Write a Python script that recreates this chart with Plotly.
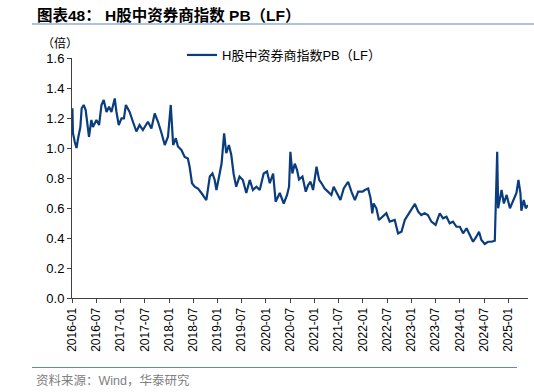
import plotly.graph_objects as go

dates = [
    "2016-01-04", "2016-01-08", "2016-01-22", "2016-02-04", "2016-02-16", "2016-03-04", "2016-03-14",
    "2016-03-29", "2016-04-13", "2016-05-08", "2016-05-26", "2016-06-07", "2016-07-03", "2016-07-23",
    "2016-08-10", "2016-08-27", "2016-09-17", "2016-10-06", "2016-10-24", "2016-11-18", "2016-12-01",
    "2016-12-18", "2017-01-08", "2017-01-26", "2017-02-10", "2017-03-10", "2017-04-04", "2017-04-30",
    "2017-05-24", "2017-06-18", "2017-07-26", "2017-08-21", "2017-09-15", "2017-10-10", "2017-11-05",
    "2017-11-30", "2017-12-24", "2018-01-14", "2018-02-01", "2018-02-21", "2018-03-09", "2018-04-04",
    "2018-04-29", "2018-05-23", "2018-06-05", "2018-06-23", "2018-07-13", "2018-08-07", "2018-09-02",
    "2018-10-09", "2018-11-04", "2018-11-24", "2018-12-11", "2018-12-24", "2019-01-13", "2019-02-01",
    "2019-02-20", "2019-03-08", "2019-03-28", "2019-04-15", "2019-05-02", "2019-05-22", "2019-06-16",
    "2019-07-11", "2019-08-06", "2019-09-01", "2019-09-25", "2019-10-21", "2019-11-15", "2019-12-15",
    "2020-01-09", "2020-01-30", "2020-02-24", "2020-03-14", "2020-04-14", "2020-05-14", "2020-06-08",
    "2020-06-23", "2020-07-03", "2020-07-18", "2020-08-05", "2020-08-22", "2020-09-06", "2020-10-02",
    "2020-10-27", "2020-11-14", "2020-12-02", "2020-12-21", "2021-01-16", "2021-02-05", "2021-02-23",
    "2021-03-18", "2021-04-12", "2021-05-08", "2021-05-25", "2021-06-19", "2021-07-15", "2021-08-09",
    "2021-09-11", "2021-10-06", "2021-11-01", "2021-11-26", "2021-12-29", "2022-01-15", "2022-02-09",
    "2022-02-27", "2022-03-12", "2022-03-22", "2022-04-12", "2022-05-01", "2022-06-01", "2022-06-26",
    "2022-07-21", "2022-08-28", "2022-09-22", "2022-10-18", "2022-11-12", "2022-12-06", "2023-01-02",
    "2023-01-27", "2023-02-21", "2023-03-16", "2023-04-10", "2023-05-05", "2023-05-31", "2023-07-02",
    "2023-08-02", "2023-08-27", "2023-09-22", "2023-10-16", "2023-11-10", "2023-12-06", "2024-01-01",
    "2024-01-25", "2024-02-20", "2024-03-15", "2024-04-09", "2024-05-04", "2024-05-24", "2024-06-11",
    "2024-07-06", "2024-07-31", "2024-08-26", "2024-09-20", "2024-10-08", "2024-10-15", "2024-10-28",
    "2024-11-10", "2024-11-27", "2024-12-18", "2025-01-12", "2025-02-06", "2025-03-02", "2025-03-17",
    "2025-04-01", "2025-04-08", "2025-04-26", "2025-05-11", "2025-05-28",
]

pb_values = [
    1.265, 1.100, 1.040, 1.000, 1.065, 1.140, 1.265,
    1.287, 1.253, 1.075, 1.187, 1.140, 1.187, 1.153,
    1.287, 1.320, 1.240, 1.275, 1.240, 1.330, 1.240,
    1.153, 1.198, 1.198, 1.287, 1.240, 1.175, 1.110,
    1.153, 1.120, 1.175, 1.130, 1.230, 1.175, 1.100,
    1.020, 1.075, 1.287, 1.020, 1.065, 1.010, 0.987,
    0.940, 0.930, 0.875, 0.765, 0.742, 0.730, 0.700,
    0.653, 0.810, 0.830, 0.787, 0.720, 0.810, 0.898,
    1.098, 0.965, 1.020, 0.953, 0.830, 0.742, 0.810,
    0.787, 0.700, 0.787, 0.720, 0.742, 0.720, 0.830,
    0.843, 0.765, 0.830, 0.642, 0.700, 0.630, 0.687,
    0.742, 0.975, 0.830, 0.895, 0.855, 0.790, 0.810,
    0.709, 0.753, 0.775, 0.720, 0.875, 0.787, 0.765,
    0.730, 0.709, 0.687, 0.742, 0.700, 0.653, 0.730,
    0.775, 0.709, 0.653, 0.709, 0.709, 0.720, 0.730,
    0.665, 0.565, 0.630, 0.598, 0.520, 0.542, 0.565,
    0.509, 0.520, 0.431, 0.442, 0.520, 0.553, 0.587,
    0.627, 0.575, 0.553, 0.565, 0.553, 0.509, 0.487,
    0.565, 0.531, 0.542, 0.498, 0.509, 0.475, 0.475,
    0.431, 0.465, 0.420, 0.375, 0.409, 0.442, 0.387,
    0.360, 0.375, 0.375, 0.382, 0.975, 0.598, 0.675,
    0.720, 0.630, 0.687, 0.598, 0.653, 0.700, 0.787,
    0.700, 0.582, 0.653, 0.598, 0.620,
]

tick_dates = ["2016-01-01", "2016-07-01", "2017-01-01", "2017-07-01", "2018-01-01", "2018-07-01",
              "2019-01-01", "2019-07-01", "2020-01-01", "2020-07-01", "2021-01-01", "2021-07-01",
              "2022-01-01", "2022-07-01", "2023-01-01", "2023-07-01", "2024-01-01", "2024-07-01",
              "2025-01-01"]
tick_labels = [d[:7] for d in tick_dates]

series_name = "H股中资券商指数PB（LF）"
title_text = "<b>图表48： H股中资券商指数 PB（LF）</b>"
unit_text = "（倍）"
source_text = "资料来源：Wind，华泰研究"

FONT = "Liberation Sans, Arial, Noto Sans CJK SC, sans-serif"
LINE_COLOR = "#0b3c7d"

W, H = 534, 392
L, R, T, B = 72, 6, 58, 94
pw = W - L - R
ph = H - T - B


def px(x):
    return (x - L) / pw


def py(y):
    return (H - B - y) / ph


fig = go.Figure()
fig.add_trace(go.Scatter(
    x=dates, y=pb_values, mode="lines", name=series_name,
    line=dict(color=LINE_COLOR, width=2.2),
))

fig.update_layout(
    width=W, height=H,
    margin=dict(l=L, r=R, t=T, b=B, autoexpand=False),
    paper_bgcolor="white", plot_bgcolor="white",
    font=dict(family=FONT, size=12, color="#000000"),
    showlegend=True,
    legend=dict(
        x=px(182), y=py(55), xanchor="left", yanchor="middle",
        bgcolor="rgba(0,0,0,0)", font=dict(size=13, color="#000000"),
        itemwidth=30,
    ),
    xaxis=dict(
        type="date", range=["2016-01-01", "2025-05-28"],
        tickvals=tick_dates, ticktext=tick_labels, tickangle=-90,
        ticks="outside", ticklen=4, tickcolor="#404040",
        showline=True, linecolor="#404040", linewidth=1,
        showgrid=False, zeroline=False,
        tickfont=dict(size=12, color="#000000"),
    ),
    yaxis=dict(
        range=[0, 1.6], dtick=0.2, tickformat=".1f",
        ticks="outside", ticklen=4, tickcolor="#404040",
        showline=True, linecolor="#404040", linewidth=1,
        showgrid=False, zeroline=False,
        tickfont=dict(size=13, color="#000000"),
    ),
)

fig.add_annotation(
    x=px(35), y=py(15), xref="paper", yref="paper", xanchor="left", yanchor="middle",
    text=title_text, showarrow=False, font=dict(size=15.5, color="#000000", family=FONT),
)
fig.add_annotation(
    x=px(40), y=py(43), xref="paper", yref="paper", xanchor="left", yanchor="middle",
    text=unit_text, showarrow=False, font=dict(size=12, color="#000000", family=FONT),
)
fig.add_annotation(
    x=px(34), y=py(380), xref="paper", yref="paper", xanchor="left", yanchor="middle",
    text=source_text, showarrow=False, font=dict(size=12.5, color="#808080", family=FONT),
)
fig.add_shape(type="line", xref="paper", yref="paper",
              x0=px(32), x1=px(534), y0=py(24), y1=py(24),
              line=dict(color="#5b8ac6", width=1.2))
fig.add_shape(type="line", xref="paper", yref="paper",
              x0=px(32), x1=px(517), y0=py(367.5), y1=py(367.5),
              line=dict(color="#5b8ac6", width=1.2))

fig.write_html("out.html", config={"displayModeBar": False},
               post_script="document.body.style.margin='0';")
